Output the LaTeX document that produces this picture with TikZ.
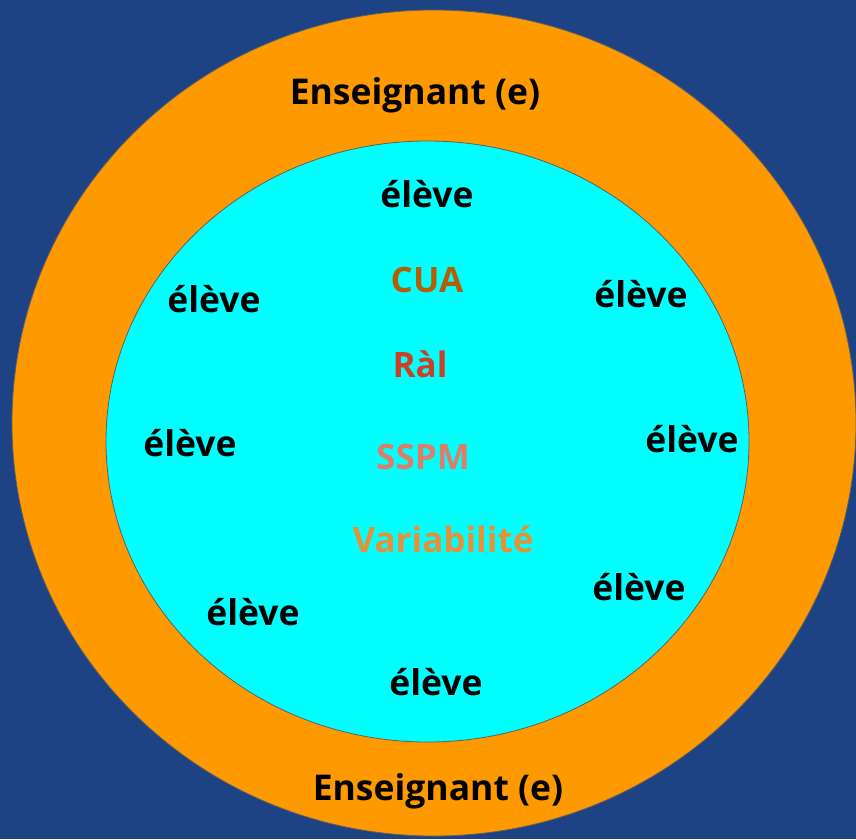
\documentclass[tikz,border=0pt]{standalone}
\usepackage{fontspec}
\setmainfont{Open Sans}
\definecolor{fond}{HTML}{1D4384}
\definecolor{orange}{HTML}{FF9900}
\definecolor{cyan}{HTML}{00FFFF}
\definecolor{bord}{HTML}{5F5F5F}
\definecolor{cua}{HTML}{B45F06}
\definecolor{ral}{HTML}{CC4125}
\definecolor{sspm}{HTML}{DD7E6B}
\definecolor{varia}{HTML}{E69138}
\tikzset{
  eleve/.style={font=\fontsize{35.5}{40}\selectfont\bfseries, text=black},
  prof/.style={font=\fontsize{35.5}{40}\selectfont\bfseries, text=black},
  notion/.style={font=\fontsize{35}{40}\selectfont\bfseries},
}
\begin{document}
\begin{tikzpicture}[x=1pt, y=-1pt]
\fill [fond] (0,0) rectangle (856,839);
\useasboundingbox (0,0) rectangle (856,839);
\filldraw [fill=orange, draw=bord, line width=0.8pt] (434,423) ellipse [x radius=422, y radius=413];
\filldraw [fill=cyan, draw=bord, line width=0.8pt] (427.5,441.5) ellipse [x radius=321.5, y radius=300.5];
% enseignant, en haut et en bas
\node (ens1) [prof] at (415,95) {Enseignant (e)};
\node (ens2) [prof] at (438,791) {Enseignant (e)};
% les eleves tout autour
\node (el1) [eleve] at (427,194) {élève};
\node (el2) [eleve] at (214,299) {élève};
\node (el3) [eleve] at (641,294) {élève};
\node (el4) [eleve] at (190,443) {élève};
\node (el5) [eleve] at (692,439) {élève};
\node (el6) [eleve] at (253,612) {élève};
\node (el7) [eleve] at (639,587) {élève};
\node (el8) [eleve] at (436,682) {élève};
% au centre
\node (cua) [notion, text=cua] at (427,280) {CUA};
\node (ral) [notion, text=ral] at (420,364) {Ràl};
\node (sspm) [notion, text=sspm] at (423,457) {SSPM};
\node (var) [notion, text=varia] at (443,539) {Variabilité};
\end{tikzpicture}
\end{document}
